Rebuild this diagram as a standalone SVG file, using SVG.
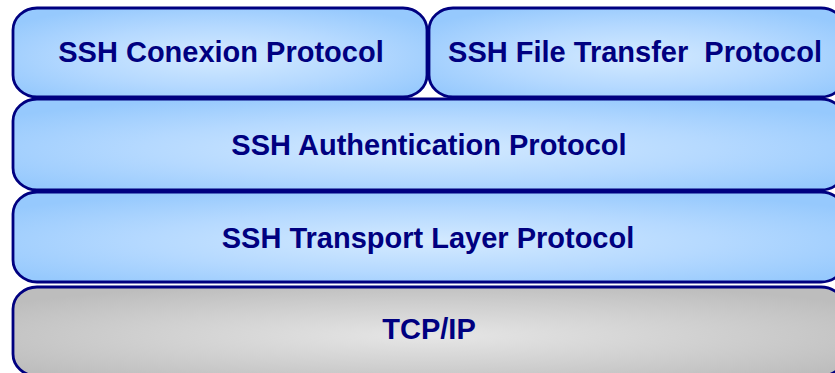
<svg xmlns="http://www.w3.org/2000/svg" width="835" height="373" viewBox="0 0 835 373">
  <style>
    .layer { stroke: #000080; stroke-width: 2.8; }
    .blue { fill: url(#blueFill); }
    .grey { fill: url(#greyFill); }
    .label { font-family: "Liberation Sans", Arial, sans-serif; font-weight: bold; font-size: 29px; fill: #000080; text-anchor: middle; white-space: pre; }
  </style>
  <defs>
    <radialGradient id="blueFill" cx="0.5" cy="0.55" r="0.62">
      <stop offset="0" stop-color="#d4eaff"/>
      <stop offset="0.55" stop-color="#b5d9ff"/>
      <stop offset="1" stop-color="#96c9fd"/>
    </radialGradient>
    <radialGradient id="greyFill" cx="0.5" cy="0.55" r="0.62">
      <stop offset="0" stop-color="#e6e6e6"/>
      <stop offset="0.55" stop-color="#d0d0d0"/>
      <stop offset="1" stop-color="#bdbdbd"/>
    </radialGradient>
  </defs>

  <!-- Protocol stack, top to bottom -->
  <g id="ssh-conexion">
    <rect class="layer blue" x="13" y="8" width="414" height="89" rx="24" ry="22"/>
    <text class="label" x="221" y="62">SSH Conexion Protocol</text>
  </g>
  <g id="ssh-file-transfer">
    <rect class="layer blue" x="429" y="8" width="416" height="89" rx="24" ry="22"/>
    <text class="label" x="635" y="62">SSH File Transfer  Protocol</text>
  </g>
  <g id="ssh-authentication">
    <rect class="layer blue" x="13" y="99" width="832" height="91" rx="24" ry="22"/>
    <text class="label" x="429" y="155">SSH Authentication Protocol</text>
  </g>
  <g id="ssh-transport">
    <rect class="layer blue" x="13" y="192" width="832" height="90" rx="24" ry="22"/>
    <text class="label" x="428" y="248">SSH Transport Layer Protocol</text>
  </g>
  <g id="tcp-ip">
    <rect class="layer grey" x="13" y="287" width="832" height="89" rx="24" ry="22"/>
    <text class="label" x="429" y="339">TCP/IP</text>
  </g>

  <g id="connectors"/>
</svg>
